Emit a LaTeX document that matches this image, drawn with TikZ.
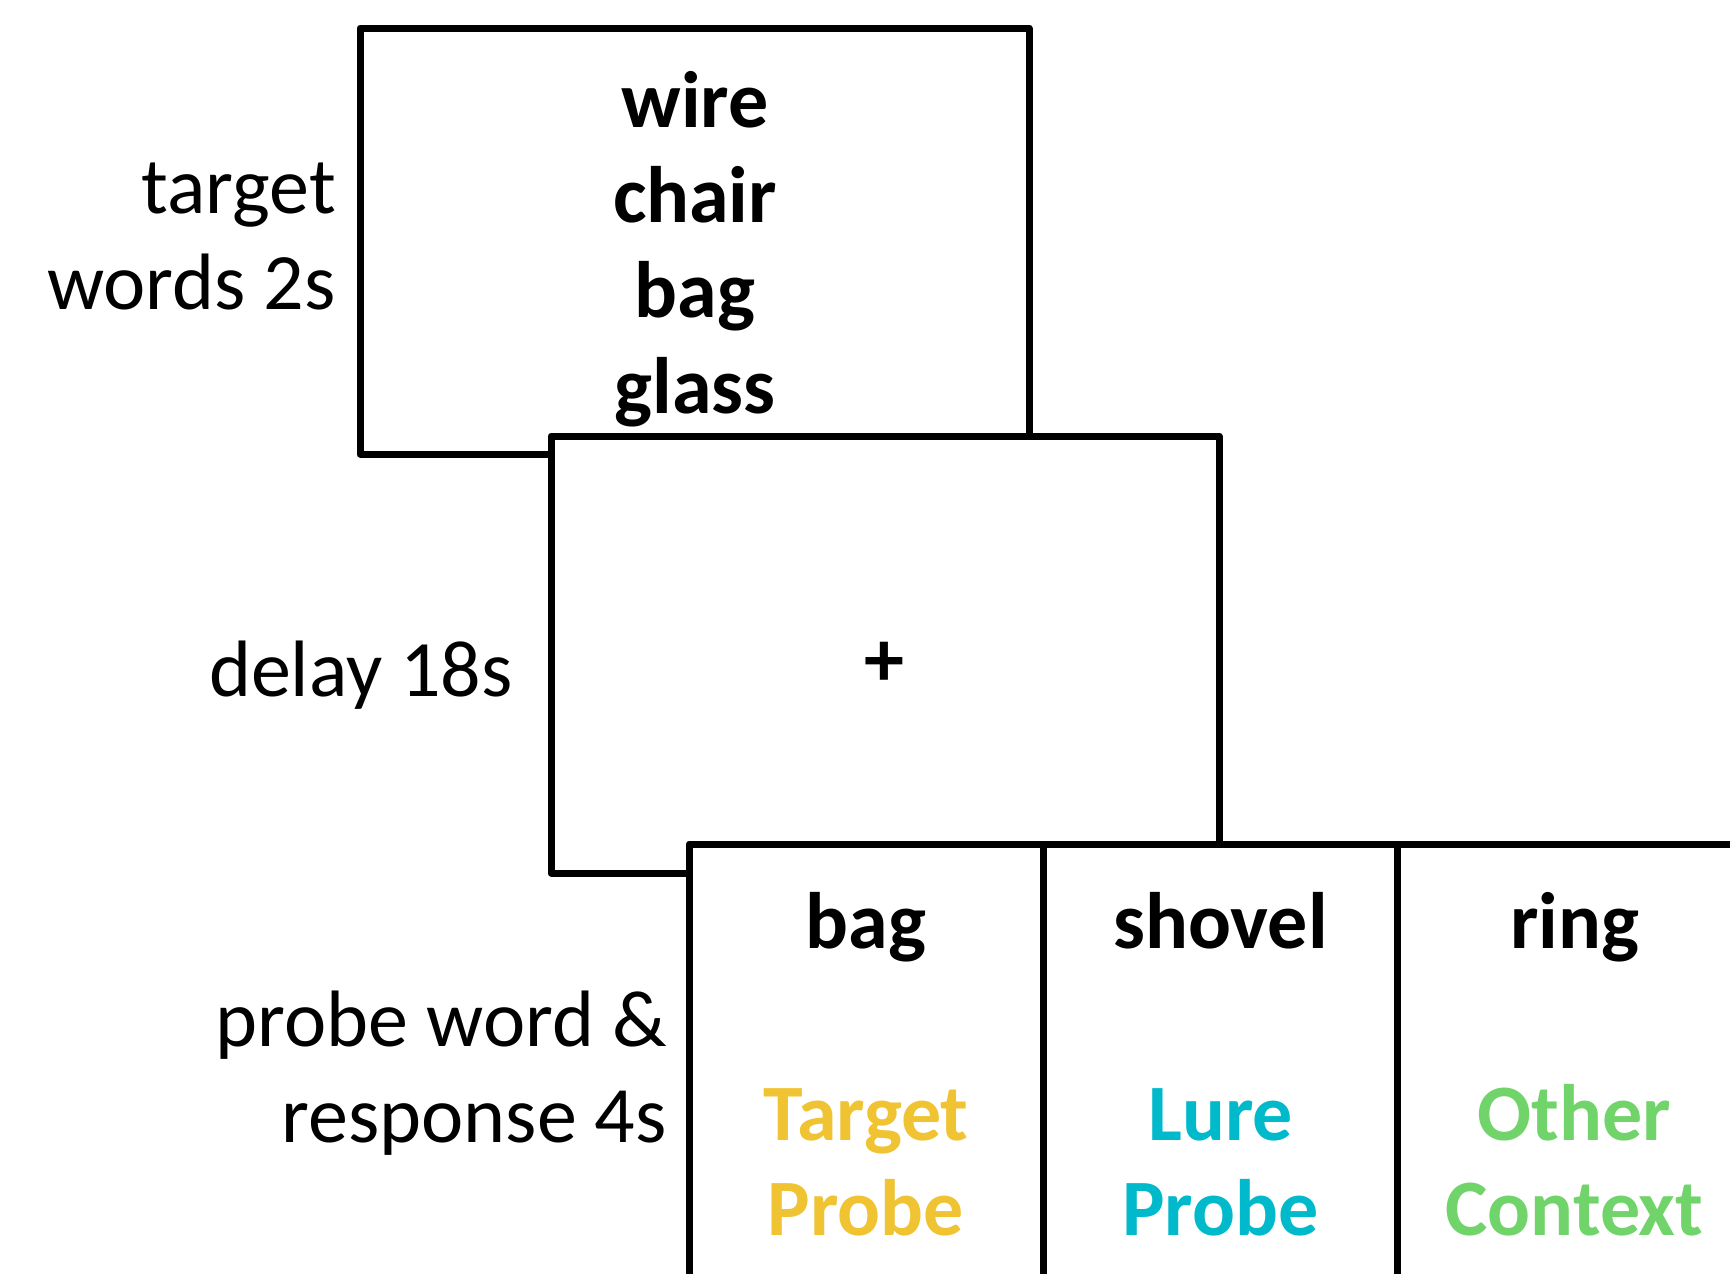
\documentclass[tikz,border=0pt]{standalone}
\usepackage{fontspec}
\setmainfont{Carlito}
\definecolor{tgtcol}{RGB}{240,195,50}
\definecolor{lurecol}{RGB}{0,186,204}
\definecolor{othcol}{RGB}{112,212,106}
\begin{document}
\begin{tikzpicture}[x=1pt,y=-1pt,
  frame/.style={draw=black, line width=7pt, line join=round, fill=white, inner sep=0pt, outer sep=0pt},
  divider/.style={draw=black, line width=7pt},
  lbl/.style={font=\fontsize{80}{96}\selectfont, inner sep=0pt, anchor=base east},
  word/.style={font=\fontsize{80}{96}\selectfont\bfseries, inner sep=0pt, anchor=base},
]
\useasboundingbox (0,0) rectangle (1730,1274);
\clip (0,0) rectangle (1730,1274);

% box 1: target words
\node[frame, minimum width=669pt, minimum height=426pt] (box1) at (694.5,241) {};
\node[word] (w1) at (695,127) {wire};
\node[word] (w2) at (695,222) {chair};
\node[word] (w3) at (695,317) {bag};
\node[word] (w4) at (695,413) {glass};

% box 2: delay
\node[frame, minimum width=668pt, minimum height=437pt] (box2) at (885,654.5) {};
\node[word, anchor=center] (plus) at (884,664) {+};

% box 3: probe
\node[frame, anchor=north west, minimum width=1100pt, minimum height=500pt] (box3) at (689,844) {};
\coordinate (d1top) at (1043.5,844);
\coordinate (d1bot) at (1043.5,1290);
\coordinate (d2top) at (1397,844);
\coordinate (d2bot) at (1397,1290);
\draw[divider] (d1top) -- (d1bot);
\draw[divider] (d2top) -- (d2bot);

\node[word] (p1) at (866,948) {bag};
\node[word] (p2) at (1220.5,948) {shovel};
\node[word] (p3) at (1574.5,948) {ring};

\node[word, text=tgtcol] (c1a) at (866,1140) {Target};
\node[word, text=tgtcol] (c1b) at (866,1235) {Probe};
\node[word, text=lurecol] (c2a) at (1220.5,1140) {Lure};
\node[word, text=lurecol] (c2b) at (1220.5,1235) {Probe};
\node[word, text=othcol] (c3a) at (1574.5,1140) {Other};
\node[word, text=othcol] (c3b) at (1574.5,1235) {Context};

% left labels
\node[lbl] (l1a) at (336,213) {target};
\node[lbl] (l1b) at (336,309) {words 2s};
\node[lbl] (l2) at (513,696) {delay 18s};
\node[lbl] (l3a) at (667,1046) {probe word \&};
\node[lbl] (l3b) at (667,1142) {response 4s};
\end{tikzpicture}
\end{document}
